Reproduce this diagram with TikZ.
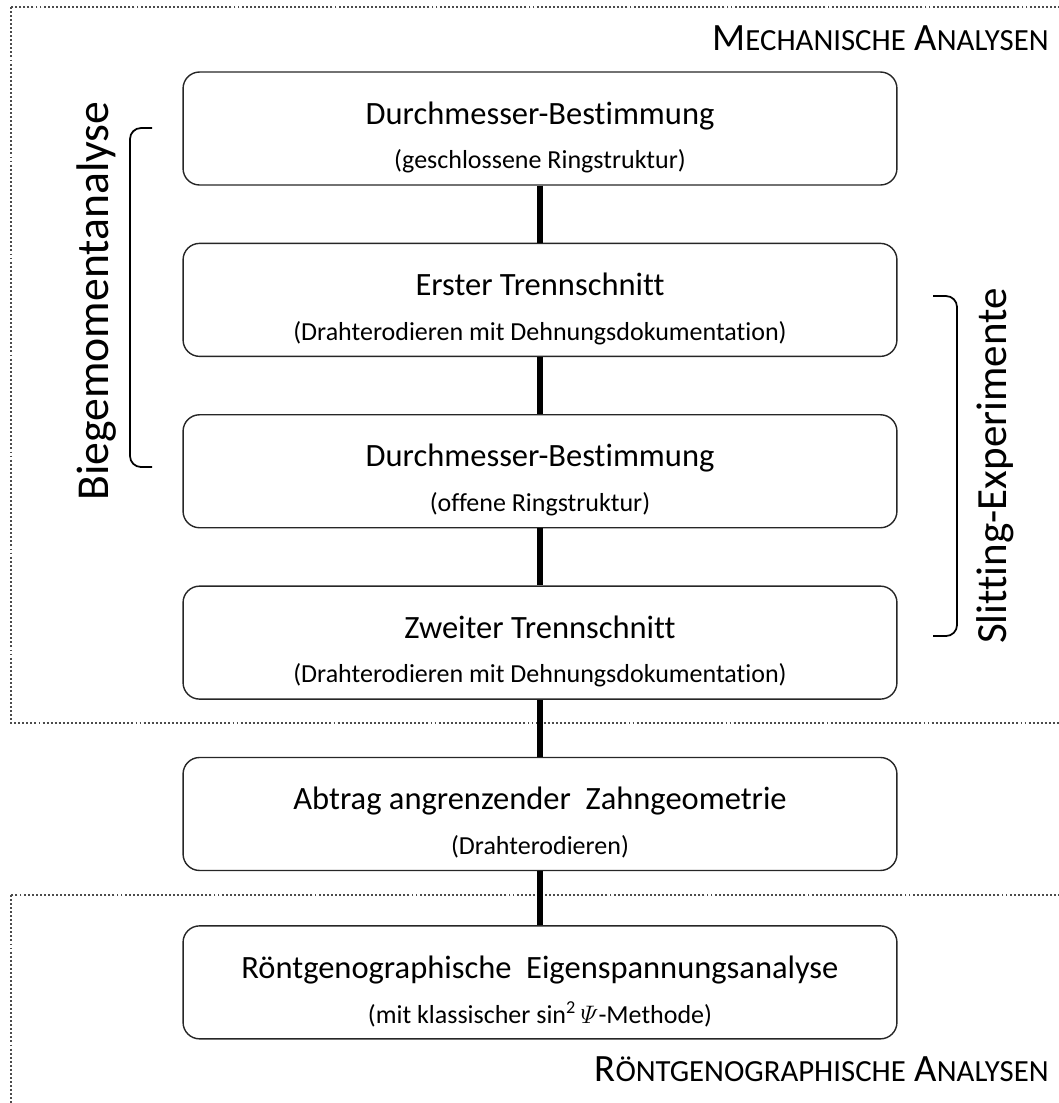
\documentclass[tikz,border=0pt]{standalone}
\usepackage{fontspec}
\setmainfont{Carlito}[Ligatures=NoCommon]
\usepackage{amsmath}
\usetikzlibrary{positioning,calc}

\newcommand{\subline}[1]{{\fontsize{14.8}{25.5}\selectfont #1}}
\newcommand{\fakesc}[2]{{\fontsize{22}{26}\selectfont #1}{\fontsize{17.5}{21}\selectfont #2}}
\newcommand{\topstrut}{\rule{0pt}{23pt}}

\begin{document}
\begin{tikzpicture}[x=0.02cm,y=-0.02cm]
\tikzstyle{stage}=[draw=black!85, line width=0.8pt, rectangle, rounded corners=0.33cm, minimum height=2.26cm, minimum width=14.28cm, align=center, font=\fontsize{18.5}{25.5}\selectfont];
\tikzstyle{frame}=[draw=black!70, line width=1.1pt, dash pattern=on 1.1pt off 1.2pt];
\tikzstyle{link}=[line width=3.8pt];
\tikzstyle{brace}=[line width=1pt, rounded corners=0.22cm];
\tikzstyle{sidelabel}=[rotate=90, font=\fontsize{24.5}{28}\selectfont];
\tikzstyle{areatitle}=[anchor=base east, inner sep=0pt, font=\fontsize{22}{26}\selectfont];
\useasboundingbox (0,0) rectangle (1059,1103);
\begin{scope}
  % dotted areas
  \draw[frame] (11,7) rectangle (1062,723);
  \draw[frame] (11,895) rectangle (1062,1108);

  \node (diamclosed) at (540,128.5) [stage] {\topstrut Durchmesser-Bestimmung\\\subline{(geschlossene Ringstruktur)}};
  \node (cutfirst) [below=1.14cm of diamclosed, stage] {\topstrut Erster Trennschnitt\\\subline{(Drahterodieren mit Dehnungsdokumentation)}};
  \node (diamopen) [below=1.14cm of cutfirst, stage] {\topstrut Durchmesser-Bestimmung\\\subline{(offene Ringstruktur)}};
  \node (cutsecond) [below=1.14cm of diamopen, stage] {\topstrut Zweiter Trennschnitt\\\subline{(Drahterodieren mit Dehnungsdokumentation)}};
  \node (removal) [below=1.14cm of cutsecond, stage] {\topstrut Abtrag angrenzender\ \ Zahngeometrie\\\subline{(Drahterodieren)}};
  \node (xray) [below=1.08cm of removal, stage] {\topstrut Röntgenographische\ \ Eigenspannungsanalyse\\\subline{(mit klassischer sin\textsuperscript{2}\,$\varPsi$-Methode)}};

  \node (mechtitle) [areatitle] at (1049,50) {\fakesc{M}{ECHANISCHE} \fakesc{A}{NALYSEN}};
  \node (xraytitle) [areatitle] at (1049,1081) {\fakesc{R}{ÖNTGENOGRAPHISCHE} \fakesc{A}{NALYSEN}};

  \node (bending) at (97,301) [sidelabel, font=\fontsize{26}{30}\selectfont] {Biegemomentanalyse};
  \node (slitting) at (995,466) [sidelabel] {Slitting-Experimente};

  \draw[brace] (152,128) -- (130,128) -- (130,467) -- (152,467);
  \draw[brace] (933,296) -- (957,296) -- (957,636) -- (933,636);

  \draw[link] (diamclosed) -- (cutfirst);
  \draw[link] (cutfirst) -- (diamopen);
  \draw[link] (diamopen) -- (cutsecond);
  \draw[link] (cutsecond) -- (removal);
  \draw[link] (removal) -- (xray);
\end{scope}
\end{tikzpicture}
\end{document}
